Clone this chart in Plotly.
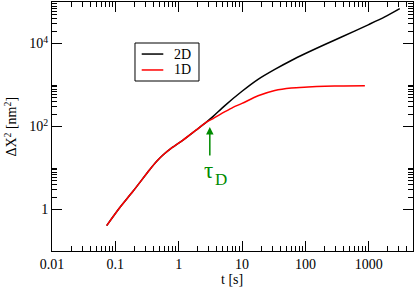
import plotly.graph_objects as go

# ---- data ----
t_1d = [0.073, 0.117, 0.19, 0.348, 0.45, 0.565, 0.767, 1.17, 1.9, 2.74, 3.5, 5.3, 7.2, 10, 17.9, 32.9, 60, 110, 203, 400, 870]
msd_1d = [0.41, 1.1, 2.74, 9.06, 14.5, 20.5, 30, 47, 83, 127, 155, 224, 290, 360, 550, 740, 850, 895, 930, 950, 960]

t_2d = [0.073, 0.117, 0.19, 0.348, 0.45, 0.565, 0.767, 1.17, 1.9, 2.74, 3.5, 5.3, 10, 17.9, 32.9, 60, 100, 203, 372, 1000, 1790, 3090]
msd_2d = [0.41, 1.1, 2.74, 9.06, 14.5, 20.5, 30, 47, 83, 128, 175, 315, 707, 1370, 2380, 3900, 5730, 9460, 14300, 28600, 43800, 69300]

series_names = ["2D", "1D"]
series_colors = ["black", "red"]

x_major = [0.01, 0.1, 1, 10, 100, 1000]
x_major_text = ["0.01", "0.1", "1", "10", "100", "1000"]
x_minor = [k * 10.0 ** n for n in range(-2, 4) for k in range(2, 10) if k * 10.0 ** n <= 5000]

y_major = [1, 100, 10000]
y_major_text = ["1", "10<sup>2</sup>", "10<sup>4</sup>"]
y_minor = [k * 10.0 ** n for n in (0, 2, 4) for k in range(2, 11)]

tau_d = 3.1
tau_d_msd = 97

FONT = "Liberation Serif"
GREEN = "rgb(0,139,0)"

fig = go.Figure()
fig.add_trace(go.Scatter(x=t_2d, y=msd_2d, mode="lines", name=series_names[0],
                         line=dict(color=series_colors[0], width=1.5, shape="spline", smoothing=0.8)))
fig.add_trace(go.Scatter(x=t_1d, y=msd_1d, mode="lines", name=series_names[1],
                         line=dict(color=series_colors[1], width=1.5, shape="spline", smoothing=0.8)))

axis_common = dict(
    type="log", showgrid=False, zeroline=False, showline=True, linecolor="black", linewidth=1,
    mirror="ticks", ticks="inside", ticklen=10, tickwidth=1, tickcolor="black",
    tickfont=dict(family=FONT, size=14, color="black"), automargin=False,
)

fig.update_xaxes(
    **axis_common, range=[-2, 3.699], tickmode="array", tickvals=x_major, ticktext=x_major_text,
    minor=dict(tickmode="array", tickvals=x_minor, ticks="inside", ticklen=5, tickwidth=1, tickcolor="black"),
)
fig.update_yaxes(
    **axis_common, range=[-1, 5], tickmode="array", tickvals=y_major, ticktext=y_major_text,
    minor=dict(tickmode="array", tickvals=y_minor, ticks="inside", ticklen=5, tickwidth=1, tickcolor="black"),
)

# axis titles
fig.add_annotation(x=0.4986, y=-0.116, xref="paper", yref="paper", showarrow=False,
                   text="t [s]", font=dict(family=FONT, size=14, color="black"),
                   xanchor="center", yanchor="middle")
fig.add_annotation(x=-0.116, y=0.5, xref="paper", yref="paper", showarrow=False, textangle=-90,
                   text="ΔX<sup>2</sup> [nm<sup>2</sup>]", font=dict(family=FONT, size=14, color="black"),
                   xanchor="center", yanchor="middle")

# legend box (grace-style)
fig.add_shape(type="rect", xref="paper", yref="paper", x0=0.2299, x1=0.4072, y0=0.6827, y1=0.8353,
              line=dict(color="black", width=1), fillcolor="white", layer="above")
legend_rows_y = [0.791, 0.727]
for name, color, ly in zip(series_names, series_colors, legend_rows_y):
    fig.add_shape(type="line", xref="paper", yref="paper", x0=0.2485, x1=0.3083, y0=ly, y1=ly,
                  line=dict(color=color, width=1.5), layer="above")
    fig.add_annotation(x=0.3325, y=ly, xref="paper", yref="paper", showarrow=False,
                       text=name, xanchor="left", yanchor="middle",
                       font=dict(family=FONT, size=14, color="black"))

# tau_D arrow and label
fig.add_annotation(x=0.4914, y=1.9868, xref="x", yref="y", ax=0, ay=30, axref="pixel", ayref="pixel",
                   text="", showarrow=True, arrowhead=2, arrowsize=1, arrowwidth=1.5, arrowcolor=GREEN)
fig.add_annotation(x=0.4914, y=1.9868, xref="x", yref="y", xshift=-1, yshift=-43,
                   text="τ", showarrow=False,
                   font=dict(family=FONT, size=23, color=GREEN))
fig.add_annotation(x=0.4914, y=1.9868, xref="x", yref="y", xshift=11, yshift=-52,
                   text="D", showarrow=False,
                   font=dict(family=FONT, size=17, color=GREEN))

fig.update_layout(
    width=415, height=288,
    margin=dict(l=52, r=2, t=2, b=37, autoexpand=False),
    paper_bgcolor="white", plot_bgcolor="white",
    showlegend=False,
)

fig.write_html("out.html", config={"displayModeBar": False},
               post_script="document.body.style.margin='0';document.body.style.padding='0';")
